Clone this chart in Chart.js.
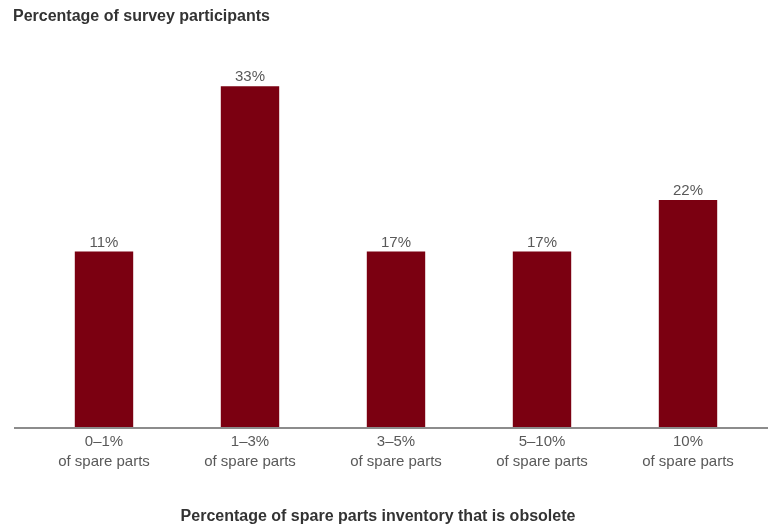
<!DOCTYPE html>
<html>
<head>
<meta charset="utf-8">
<script src="https://cdn.jsdelivr.net/npm/chart.js@4"></script>
<style>
  html, body { margin: 0; padding: 0; background: #fff; }
  #wrap { width: 768px; height: 529px; position: relative; }
</style>
</head>
<body>
<div id="wrap"><canvas id="sparePartsChart"></canvas></div>
<script>
// categories (x axis)
var categories = [
    ['0\u20131%', 'of spare parts'],
    ['1\u20133%', 'of spare parts'],
    ['3\u20135%', 'of spare parts'],
    ['5\u201310%', 'of spare parts'],
    ['10%', 'of spare parts']
];
// bar heights as drawn in the picture (first bar is drawn at the same height as the 17% bars)
var barValues = [17, 33, 17, 17, 22];
// value labels printed above the bars
var valueLabels = ['11%', '33%', '17%', '17%', '22%'];

var yTitle = 'Percentage of survey participants';
var xTitle = 'Percentage of spare parts inventory that is obsolete';

var fontFamily = '"Liberation Sans", Arial, Helvetica, sans-serif';
var barColor = '#7b0011';
var textGray = '#595959';

var chartText = {
    id: 'chartText',
    afterDatasetsDraw: function (chart) {
        var ctx = chart.ctx;
        var meta = chart.getDatasetMeta(0);
        ctx.save();
        ctx.fillStyle = textGray;
        ctx.font = '15px ' + fontFamily;
        ctx.textAlign = 'center';
        ctx.textBaseline = 'alphabetic';
        meta.data.forEach(function (bar, i) {
            ctx.fillText(valueLabels[i], bar.x, bar.y - 5);
        });

        // baseline
        var y0 = chart.scales.y.getPixelForValue(0);
        ctx.strokeStyle = '#8c8c8c';
        ctx.lineWidth = 2;
        ctx.beginPath();
        ctx.moveTo(14, y0 + 1);
        ctx.lineTo(chart.width, y0 + 1);
        ctx.stroke();

        // titles
        ctx.fillStyle = '#333333';
        ctx.font = 'bold 16px ' + fontFamily;
        ctx.textAlign = 'left';
        ctx.textBaseline = 'middle';
        ctx.fillText(yTitle, 13, 17);
        ctx.textAlign = 'center';
        ctx.fillText(xTitle, 378, 517);
        ctx.restore();
    }
};

var canvas = document.getElementById('sparePartsChart');
var chart = new Chart(canvas, {
    type: 'bar',
    data: {
        labels: categories,
        datasets: [{
            data: barValues,
            backgroundColor: barColor,
            borderWidth: 0,
            barPercentage: 0.4,
            categoryPercentage: 1
        }]
    },
    options: {
        responsive: true,
        maintainAspectRatio: false,
        animation: false,
        layout: {
            padding: { left: 31, right: 7, top: 14, bottom: 60 }
        },
        plugins: {
            legend: { display: false },
            tooltip: { enabled: false }
        },
        scales: {
            x: {
                grid: { display: false },
                border: { display: false },
                ticks: {
                    color: textGray,
                    padding: -3,
                    font: { family: fontFamily, size: 15, lineHeight: 1.33 }
                }
            },
            y: {
                display: false,
                min: 0,
                max: 40
            }
        }
    },
    plugins: [chartText]
});
</script>
</body>
</html>
